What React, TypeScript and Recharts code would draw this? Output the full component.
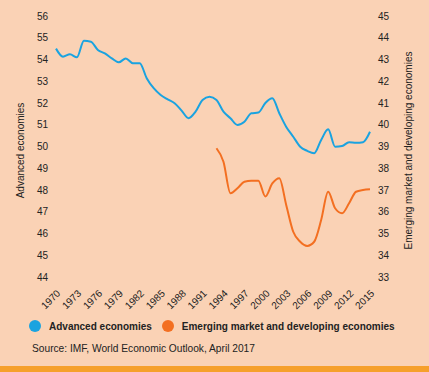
import React from 'react';
import { LineChart, Line, XAxis, YAxis } from 'recharts';

const years = [
  1970, 1971, 1972, 1973, 1974, 1975, 1976, 1977, 1978, 1979,
  1980, 1981, 1982, 1983, 1984, 1985, 1986, 1987, 1988, 1989,
  1990, 1991, 1992, 1993, 1994, 1995, 1996, 1997, 1998, 1999,
  2000, 2001, 2002, 2003, 2004, 2005, 2006, 2007, 2008, 2009,
  2010, 2011, 2012, 2013, 2014, 2015,
];

const advanced = [
  54.5, 54.13, 54.24, 54.1, 54.86, 54.82, 54.44, 54.28, 54.05, 53.87,
  54.05, 53.83, 53.83, 53.14, 52.68, 52.37, 52.17, 51.99, 51.65, 51.3,
  51.6, 52.14, 52.29, 52.14, 51.6, 51.3, 50.99, 51.14, 51.53, 51.56,
  52.0, 52.22, 51.53, 50.9, 50.45, 49.99, 49.8, 49.69, 50.3, 50.79,
  49.99, 50.02, 50.2, 50.17, 50.2, 50.68,
];

const emerging = [
  null, null, null, null, null, null, null, null, null, null,
  null, null, null, null, null, null, null, null, null, null,
  null, null, null, 38.92, 38.3, 36.85, 37.08, 37.38, 37.43, 37.43,
  36.7, 37.3, 37.54, 36.3, 35.08, 34.62, 34.43, 34.62, 35.62, 36.92,
  36.16, 35.93, 36.39, 36.92, 37.0, 37.03,
];

const leftTicks = [44, 45, 46, 47, 48, 49, 50, 51, 52, 53, 54, 55, 56];
const rightTicks = [33, 34, 35, 36, 37, 38, 39, 40, 41, 42, 43, 44, 45];

const data = years.map((y, i) => ({ year: y, advanced: advanced[i], emerging: emerging[i] }));

const FONT = '"Liberation Sans", Arial, sans-serif';
const BLUE = '#1aa3e0';
const ORANGE = '#f36f21';

const YearTick = ({ x, y, payload }: any) => (
  <text
    x={x + 5}
    y={y + 9}
    transform={`rotate(-45, ${x + 5}, ${y + 9})`}
    textAnchor="end"
    fontSize={10}
    fontFamily={FONT}
    fill="#222"
  >
    {payload.value}
  </text>
);

const SideLabel = ({ x, y, text }: { x: number; y: number; text: string }) => (
  <text
    x={x}
    y={y}
    transform={`rotate(-90, ${x}, ${y})`}
    textAnchor="middle"
    dominantBaseline="middle"
    fontSize={10}
    fontFamily={FONT}
    fill="#222"
  >
    {text}
  </text>
);

const Dot = ({ color }: { color: string }) => (
  <span style={{ width: 12, height: 12, borderRadius: 6, background: color, display: 'inline-block', flexShrink: 0 }} />
);

export default function App() {
  return (
    <div style={{ position: 'absolute', left: 0, top: 0, width: 429, height: 372, background: '#fad2b5', overflow: 'hidden' }}>
      <LineChart width={429} height={366} data={data} margin={{ top: 16, right: 0, bottom: 0, left: 0 }}>
        <XAxis
          dataKey="year"
          interval={2}
          axisLine={false}
          tickLine={false}
          height={89}
          tick={<YearTick />}
        />
        <YAxis
          yAxisId="left"
          domain={[44, 56]}
          ticks={leftTicks}
          width={56}
          axisLine={false}
          tickLine={false}
          tick={{ fontSize: 10, fill: '#222', fontFamily: FONT }}
          label={({ viewBox }: any) => (
            <SideLabel x={viewBox.x + 21} y={viewBox.y + viewBox.height / 2 + 4} text="Advanced economies" />
          )}
        />
        <YAxis
          yAxisId="right"
          orientation="right"
          domain={[33, 45]}
          ticks={rightTicks}
          width={59}
          axisLine={false}
          tickLine={false}
          tick={{ fontSize: 10, fill: '#222', fontFamily: FONT }}
          label={({ viewBox }: any) => (
            <SideLabel x={viewBox.x + 39} y={viewBox.y + viewBox.height / 2 + 4} text="Emerging market and developing economies" />
          )}
        />
        <Line yAxisId="left" type="monotone" dataKey="advanced" stroke={BLUE} strokeWidth={2} dot={false} isAnimationActive={false} />
        <Line yAxisId="right" type="monotone" dataKey="emerging" stroke={ORANGE} strokeWidth={2} dot={false} isAnimationActive={false} />
      </LineChart>
      <div style={{ position: 'absolute', left: 29, top: 320, display: 'flex', alignItems: 'center', fontFamily: FONT, fontSize: 10, fontWeight: 'bold', color: '#222', whiteSpace: 'nowrap' }}>
        <Dot color={BLUE} />
        <span style={{ marginLeft: 8 }}>Advanced economies</span>
        <span style={{ marginLeft: 10, display: 'inline-flex' }}><Dot color={ORANGE} /></span>
        <span style={{ marginLeft: 8 }}>Emerging market and developing economies</span>
      </div>
      <div style={{ position: 'absolute', left: 32, top: 343, fontFamily: FONT, fontSize: 10.2, color: '#222', whiteSpace: 'nowrap' }}>
        Source: IMF, World Economic Outlook, April 2017
      </div>
      <div style={{ position: 'absolute', left: 0, top: 366, width: 429, height: 6, background: '#f6a02c' }} />
    </div>
  );
}
